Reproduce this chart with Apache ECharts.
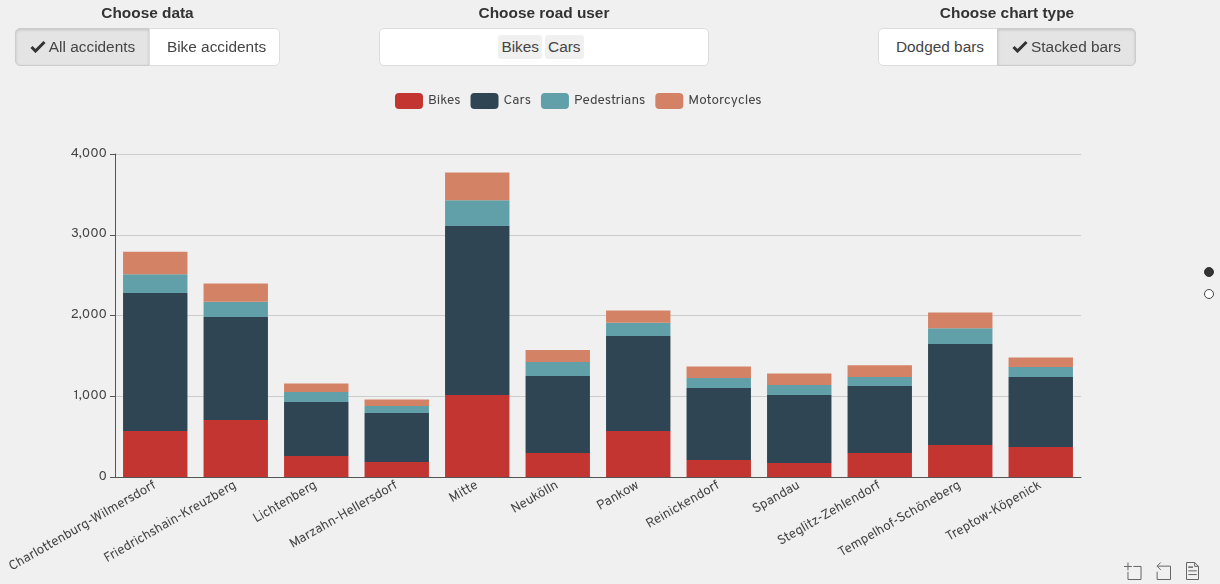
<!DOCTYPE html>
<html><head><meta charset="utf-8">
<script src="https://cdn.jsdelivr.net/npm/echarts@6/dist/echarts.min.js"></script>
<style>
html,body{margin:0;padding:0;background:#f0f0f0;width:1220px;height:584px;overflow:hidden;font-family:"Liberation Sans",Arial,sans-serif;color:#333}
#chart{position:absolute;left:0;top:0;width:1220px;height:584px}
.h{position:absolute;top:4px;font-weight:bold;font-size:15.4px;line-height:17px;text-align:center;color:#333}
.group{position:absolute;top:28px;height:38px;display:flex;box-sizing:border-box;font-size:15.4px;color:#444}
.b{box-sizing:border-box;height:38px;line-height:35px;border:1px solid #ddd;background:#fff;text-align:center;white-space:nowrap}
.b.on{background:#e4e4e4;border-color:#ccc;box-shadow:inset 0 1px 3px rgba(0,0,0,.15)}
.b.off{padding-left:4px}
.l{border-radius:5px 0 0 5px}.r{border-radius:0 5px 5px 0;margin-left:-1px}
.sel{position:absolute;left:379px;top:28px;width:330px;height:38px;box-sizing:border-box;background:#fff;border:1px solid #ddd;border-radius:5px;font-size:15.4px;text-align:center;padding:6px 6px 0 0;color:#444}
.sel span{display:inline-block;background:#f0f0f0;border-radius:3px;padding:0 3px;height:24px;line-height:23px;margin-right:3px}
.sel span:last-child{margin-right:0}
.dot{position:absolute;left:1204px;width:10px;height:10px;box-sizing:border-box;border-radius:50%}
svg.c{width:16px;height:13px;vertical-align:-1px;margin-right:3px}
</style></head><body>
<div id="chart"></div>
<div class="h" style="left:15px;width:265px">Choose data</div>
<div class="group" style="left:15px">
  <div class="b on l" style="width:135px"><svg class="c" viewBox="0 0 15 13"><path d="M1 7 L5 11 L14 2" fill="none" stroke="#333" stroke-width="3"/></svg>All accidents</div>
  <div class="b off r" style="width:131px">Bike accidents</div>
</div>
<div class="h" style="left:379px;width:330px">Choose road user</div>
<div class="sel"><span>Bikes</span><span>Cars</span></div>
<div class="h" style="left:878px;width:258px">Choose chart type</div>
<div class="group" style="left:878px">
  <div class="b off l" style="width:120px">Dodged bars</div>
  <div class="b on r" style="width:139px"><svg class="c" viewBox="0 0 15 13"><path d="M1 7 L5 11 L14 2" fill="none" stroke="#333" stroke-width="3"/></svg>Stacked bars</div>
</div>
<div class="dot" style="top:267px;background:#333;border:1px solid #333"></div>
<div class="dot" style="top:289px;background:#fff;border:1.5px solid #444"></div>
<script>
const categories = ["Charlottenburg-Wilmersdorf","Friedrichshain-Kreuzberg","Lichtenberg","Marzahn-Hellersdorf","Mitte","Neukölln","Pankow","Reinickendorf","Spandau","Steglitz-Zehlendorf","Tempelhof-Schöneberg","Treptow-Köpenick"];
const bikes = [570,706,260,186,1015,297,570,210,173,297,396,372];
const cars = [1709,1275,669,607,2093,954,1176,892,842,830,1251,866];
const pedestrians = [231,190,124,86,318,173,165,124,124,111,194,124];
const motorcycles = [280,225,105,82,345,149,152,142,142,145,196,118];
const yTicks = {min:0,max:4000,interval:1000};
const font = "Overpass, 'Noto Sans', sans-serif";
const mk = (name,data,color)=>({name,type:'bar',stack:'total',data,barCategoryGap:'20%',itemStyle:{color}});
echarts.init(document.getElementById('chart')).setOption({
  animation:false,
  backgroundColor:'#f0f0f0',
  textStyle:{fontFamily:font},
  legend:{left:390,top:88,itemWidth:28,itemHeight:16,itemGap:10,itemStyle:{borderRadius:4},textStyle:{fontSize:13.5,color:'#444',fontFamily:font},
    data:['Bikes','Cars','Pedestrians','Motorcycles']},
  toolbox:{right:4,bottom:-13,itemSize:17,itemGap:11,iconStyle:{borderColor:'#666'},feature:{dataZoom:{show:true},dataView:{show:true}}},
  grid:{left:115,right:139,top:154,bottom:107},
  xAxis:{type:'category',data:categories,axisLabel:{rotate:30,interval:0,fontSize:13.2,color:'#444',margin:8,fontFamily:font},
    axisLine:{lineStyle:{color:'#555'}},axisTick:{alignWithLabel:false,lineStyle:{color:'#555'}}},
  yAxis:{type:'value',...yTicks,axisLabel:{fontSize:13.2,color:'#444',margin:8,fontFamily:font},
    axisLine:{show:true,lineStyle:{color:'#555'}},axisTick:{show:true,lineStyle:{color:'#555'}},splitLine:{lineStyle:{color:'#ccc'}}},
  series:[mk('Bikes',bikes,'#c23531'),mk('Cars',cars,'#2f4554'),mk('Pedestrians',pedestrians,'#61a0a8'),mk('Motorcycles',motorcycles,'#d48265')]
});
</script>
</body></html>
